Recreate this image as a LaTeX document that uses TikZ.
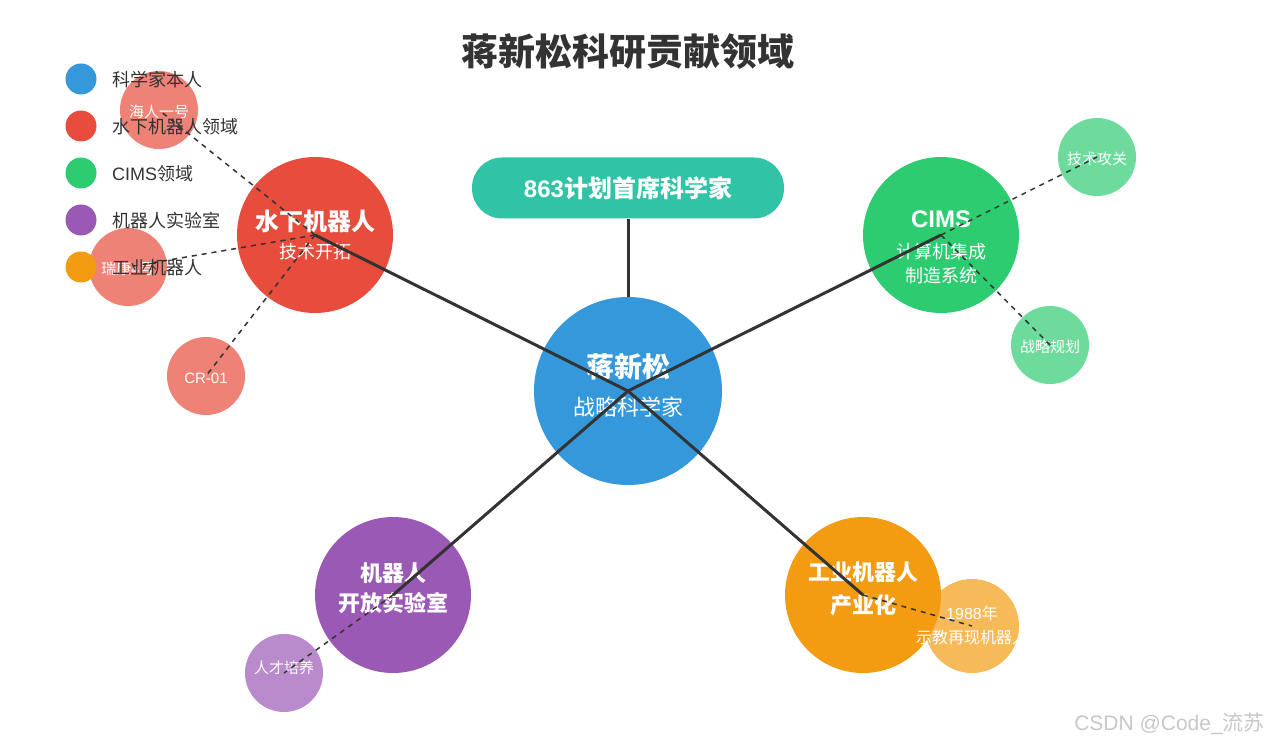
\documentclass[tikz,border=0pt]{standalone}
\usepackage{fontspec}
\setmainfont{Noto Sans CJK SC}
\newfontfamily\lat{Liberation Sans}
\definecolor{cblue}{HTML}{3498DB}
\definecolor{cred}{HTML}{E74C3C}
\definecolor{cgreen}{HTML}{2ECC71}
\definecolor{cpurple}{HTML}{9B59B6}
\definecolor{corange}{HTML}{F39C12}
\definecolor{cteal}{HTML}{31C3A6}
\definecolor{ctext}{HTML}{333333}
\definecolor{cmark}{HTML}{C8C8C8}
\newcommand{\fs}[1]{\fontsize{#1}{#1}\selectfont}
\tikzset{
  ball/.style={circle, inner sep=0pt, draw=none, minimum size=#1},
  wtxt/.style={text=white, inner sep=0pt, font=\fs{#1}},
  btxt/.style={text=white, inner sep=0pt, font=\bfseries\fs{#1}},
  conn/.style={draw=ctext, line width=3pt},
  sublink/.style={draw=ctext, line width=1.5pt, dash pattern=on 5pt off 5pt},
  legtxt/.style={text=ctext, anchor=west, inner sep=0pt, font=\fs{18}},
}
\begin{document}
\begin{tikzpicture}[x=1pt,y=-1pt]
\useasboundingbox (0,0) rectangle (1269,746);
\fill[white] (0,0) rectangle (1269,746);

% title
\node[text=ctext, font=\bfseries\fs{37}] (title) at (628,51) {蒋新松科研贡献领域};

% sub circles
\node[ball=78pt, fill=cred!70] (s1) at (159,110) {};
\node[ball=78pt, fill=cred!70] (s2) at (128,267) {};
\node[ball=78pt, fill=cred!70] (s3) at (206,376) {};
\node[ball=78pt, fill=cgreen!70] (s4) at (1097,157) {};
\node[ball=78pt, fill=cgreen!70] (s5) at (1050,345) {};
\node[ball=78pt, fill=cpurple!70] (s6) at (284,673) {};
\node[ball=94pt, fill=corange!70] (s7) at (972,626) {};

% main circles
\node[ball=188pt, fill=cblue] (c) at (628,391) {};
\node[ball=156pt, fill=cred] (uw) at (315,235) {};
\node[ball=156pt, fill=cgreen] (cims) at (941,235) {};
\node[ball=156pt, fill=cpurple] (lab) at (393,595) {};
\node[ball=156pt, fill=corange] (ind) at (863,595) {};

% top box
\node[rounded corners=30pt, fill=cteal, minimum width=312pt, minimum height=61pt, inner sep=0pt] (top) at (628,188) {};
\node[btxt=24] (topt) at (628,188) {{\lat 863}计划首席科学家};

% texts
\node[btxt=28] (ct1) at (628,367) {蒋新松};
\node[wtxt=22] (ct2) at (628,407) {战略科学家};
\node[btxt=24] (uw1) at (315,221) {水下机器人};
\node[wtxt=18] (uw2) at (315,252) {技术开拓};
\node[btxt=24] (ci1) at (941,219) {\lat CIMS};
\node[wtxt=18] (ci2) at (941,252) {计算机集成};
\node[wtxt=18] (ci3) at (941,276) {制造系统};
\node[btxt=22] (lb1) at (393,573) {机器人};
\node[btxt=22] (lb2) at (393,603) {开放实验室};
\node[btxt=22] (in1) at (863,572) {工业机器人};
\node[btxt=22] (in2) at (863,605) {产业化};

\node[wtxt=15] (s1t) at (159,112) {海人一号};
\node[wtxt=15] (s2t) at (128,269) {瑞康{\lat 4}号};
\node[wtxt=15] (s3t) at (206,378) {\lat CR-01};
\node[wtxt=15] (s4t) at (1097,159) {技术攻关};
\node[wtxt=15] (s5t) at (1050,347) {战略规划};
\node[wtxt=15] (s6t) at (284,668) {人才培养};
\node[wtxt=16] (s7t1) at (972,613) {{\lat 1988}年};
\node[wtxt=16] (s7t2) at (972,637) {示教再现机器人};

% connectors
\draw[conn] (c) -- (top);
\draw[conn] (c.center) -- (uw.center);
\draw[conn] (c.center) -- (cims.center);
\draw[conn] (c.center) -- (lab.center);
\draw[conn] (c.center) -- (ind.center);
\draw[sublink] (uw.center) -- (s1.center);
\draw[sublink] (uw.center) -- (s2.center);
\draw[sublink] (uw.center) -- (s3.center);
\draw[sublink] (cims.center) -- (s4.center);
\draw[sublink] (cims.center) -- (s5.center);
\draw[sublink] (lab.center) -- (s6.center);
\draw[sublink] (ind.center) -- (s7.center);

% legend
\node[ball=31pt, fill=cblue] (l1) at (81,79) {};
\node[ball=31pt, fill=cred] (l2) at (81,126) {};
\node[ball=31pt, fill=cgreen] (l3) at (81,173) {};
\node[ball=31pt, fill=cpurple] (l4) at (81,220) {};
\node[ball=31pt, fill=corange] (l5) at (81,267) {};
\node[legtxt] (l1t) at (112,80) {科学家本人};
\node[legtxt] (l2t) at (112,127) {水下机器人领域};
\node[legtxt] (l3t) at (112,174) {{\lat CIMS}领域};
\node[legtxt] (l4t) at (112,221) {机器人实验室};
\node[legtxt] (l5t) at (112,268) {工业机器人};

% watermark
\node[anchor=east, text=cmark, inner sep=0pt, font=\fs{21}] (wm) at (1265,724) {{\lat CSDN @Code\_}流苏};
\end{tikzpicture}
\end{document}
